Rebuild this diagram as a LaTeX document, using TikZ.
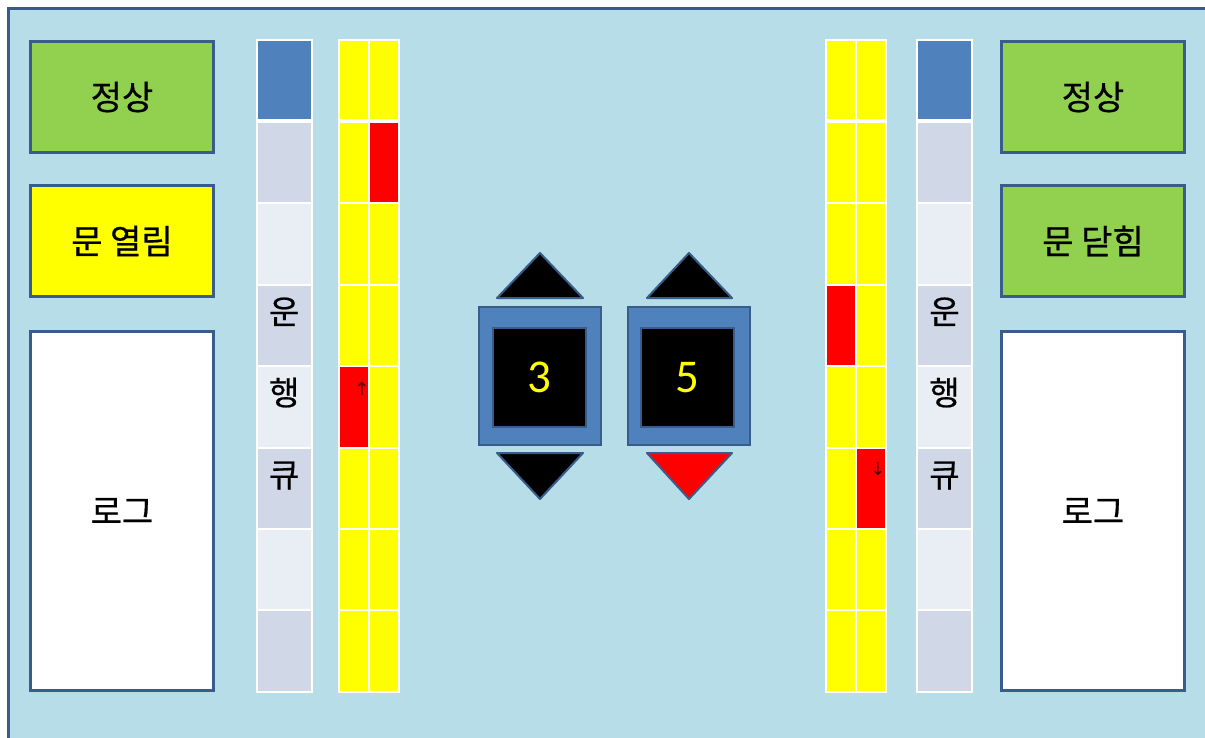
\documentclass[tikz,border=0pt]{standalone}
\usepackage{fontspec}
\newfontfamily\kr[FakeBold=0.6]{Noto Sans CJK KR}
\newfontfamily\numf{Carlito}
\newfontfamily\symf{DejaVu Sans}
\definecolor{bg}{HTML}{B7DDE8}
\definecolor{bdr}{HTML}{385D8A}
\definecolor{grn}{HTML}{92D050}
\definecolor{yel}{HTML}{FFFF00}
\definecolor{rd}{HTML}{FF0000}
\definecolor{hdr}{HTML}{4F81BD}
\definecolor{qa}{HTML}{D0D8E8}
\definecolor{qb}{HTML}{E9EDF4}
\tikzset{
  box/.style={draw=bdr, line width=2.6pt, minimum width=183.5pt, minimum height=111.5pt, inner sep=0pt, font=\kr\fontsize{34}{34}\selectfont},
  shaft/.style={draw=bdr, line width=2pt, fill=hdr, minimum width=122pt, minimum height=138pt, inner sep=0pt},
  screen/.style={draw=bdr, line width=2pt, fill=black, minimum width=93pt, minimum height=99pt, inner sep=0pt, text=yel, font=\numf\fontsize{47}{47}\selectfont},
  tri/.style={draw=bdr, line width=2pt, line join=round},
  qtext/.style={anchor=base, inner sep=0pt, font=\kr\fontsize{33}{33}\selectfont},
  arrtext/.style={inner sep=0pt, text=black!75!red, font=\symf\fontsize{18}{18}\selectfont}
}
\begin{document}
\begin{tikzpicture}[x=1pt,y=-1pt]
\useasboundingbox (0,0) rectangle (1205,738);
\clip (0,0) rectangle (1205,738);
\fill[white] (0,0) rectangle (1205,738);
\draw[draw=bdr, line width=3pt, fill=bg] (8.5,8.5) rectangle (1230,760);

% side boxes
\node[box, fill=grn] (nL) at (122,97) {정상};
\node[box, fill=yel] (dL) at (122,241) {문 열림};
\node[box, fill=white, minimum height=359.5pt] (logL) at (122,511) {로그};
\node[box, fill=grn] (nR) at (1093,97) {정상};
\node[box, fill=grn] (dR) at (1093,241) {문 닫힘};
\node[box, fill=white, minimum height=359.5pt] (logR) at (1093,511) {로그};

% queue tables
\foreach \xa/\xb in {255.5/313, 916/973} {
  \fill[white] (\xa,39) rectangle (\xb,692.5);
  \foreach \t/\b/\c in {41/119.5/hdr, 123.5/202/qa, 204/283.5/qb, 285.5/365/qa, 367/446.5/qb, 448.5/528/qa, 530/609/qb, 611/690.5/qa}
    \fill[\c] (\xa+2,\t) rectangle (\xb-2,\b);
}
% yellow columns
\foreach \xa/\xm/\xb in {338/369/400, 825/856/887} {
  \fill[white] (\xa,39) rectangle (\xb,692.5);
  \foreach \t/\b in {41/119.5, 123.5/202, 204/283.5, 285.5/365, 367/446.5, 448.5/528, 530/609, 611/690.5} {
    \fill[yel] (\xa+2,\t) rectangle (\xm-1,\b);
    \fill[yel] (\xm+1,\t) rectangle (\xb-2,\b);
  }
}
% red cells
\fill[rd] (370,123.5) rectangle (398,202);
\fill[rd] (340,367) rectangle (368,446.5);
\fill[rd] (827,285.5) rectangle (855,365);
\fill[rd] (857,448.5) rectangle (885,528);
\node[arrtext] (upA) at (362,389) {↑};
\node[arrtext] (dnA) at (878,469) {↓};

% queue labels
\node[qtext] (qL1) at (284.25,324) {운};
\node[qtext] (qL2) at (284.25,405) {행};
\node[qtext] (qL3) at (284.25,487) {큐};
\node[qtext] (qR1) at (944.5,324) {운};
\node[qtext] (qR2) at (944.5,405) {행};
\node[qtext] (qR3) at (944.5,487) {큐};

% elevators
\node[shaft] (e1) at (540,376) {};
\node[screen] (s1) at (539.5,377.5) {3};
\node[shaft] (e2) at (688.5,376) {};
\node[screen] (s2) at (687.5,377.5) {5};
\draw[tri, fill=black] (497,298) -- (540,253) -- (583,298) -- cycle;
\draw[tri, fill=black] (497,453) -- (583,453) -- (540,499) -- cycle;
\draw[tri, fill=black] (647,298) -- (689,253) -- (732,298) -- cycle;
\draw[tri, fill=rd] (647,453) -- (732,453) -- (689,499) -- cycle;
\end{tikzpicture}
\end{document}
